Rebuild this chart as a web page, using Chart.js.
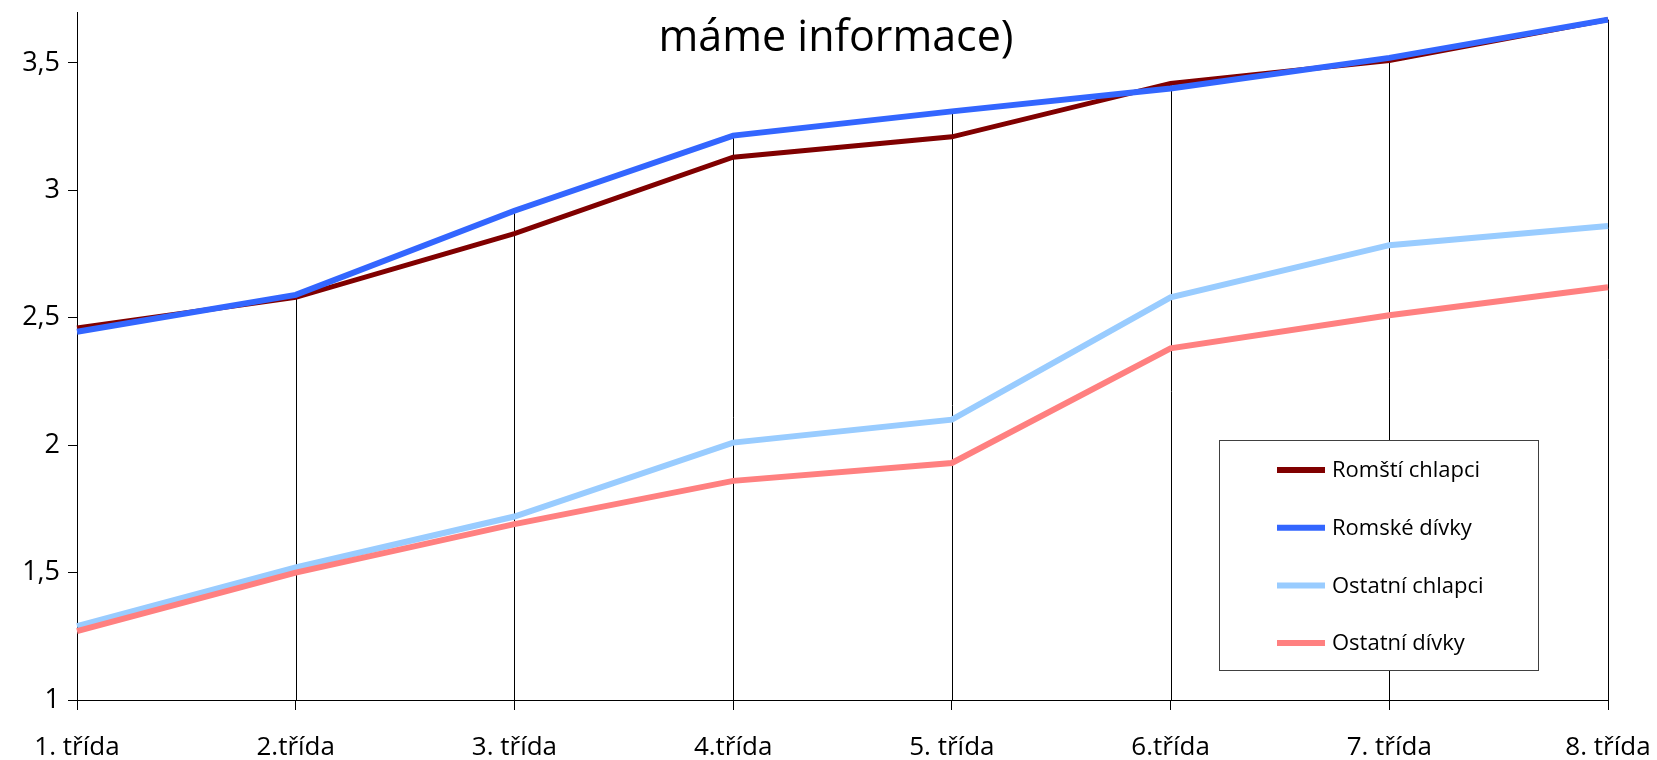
<!DOCTYPE html>
<html>
<head>
<meta charset="utf-8">
<script src="https://cdn.jsdelivr.net/npm/chart.js@4"></script>
<style>
  body { margin: 0; background: #fff; }
  #line-chart { display: block; }
</style>
</head>
<body>
<canvas id="line-chart" width="1657" height="760"></canvas>
<script>
const tridy = ['1. třída', '2.třída', '3. třída', '4.třída', '5. třída', '6.třída', '7. třída', '8. třída'];

const romstiChlapci = [2.46, 2.58, 2.83, 3.13, 3.21, 3.42, 3.51, 3.67];
const romskeDivky = [2.445, 2.59, 2.92, 3.215, 3.31, 3.40, 3.52, 3.67];
const ostatniChlapci = [1.29, 1.52, 1.72, 2.01, 2.10, 2.58, 2.785, 2.86];
const ostatniDivky = [1.27, 1.50, 1.69, 1.86, 1.93, 2.38, 2.51, 2.62];

const titleText = 'máme informace)';
const fontName = '"Open Sans", sans-serif';

// svisle spojnice od nejvyssi hodnoty dolu k ose
const dropLines = {
  id: 'dropLines',
  beforeDatasetsDraw(chart) {
    const ctx = chart.ctx;
    const x = chart.scales.x, y = chart.scales.y;
    ctx.save();
    ctx.strokeStyle = '#000';
    ctx.lineWidth = 1;
    tridy.forEach((t, i) => {
      let top = Math.max(...chart.data.datasets.map(d => d.data[i]));
      const px = Math.round(x.getPixelForValue(i)) + 0.5;
      ctx.beginPath();
      ctx.moveTo(px, y.getPixelForValue(top));
      ctx.lineTo(px, chart.chartArea.bottom);
      ctx.stroke();
    });
    ctx.restore();
  }
};

const boxLegend = {
  id: 'boxLegend',
  afterDatasetsDraw(chart) {
    const ctx = chart.ctx;
    ctx.save();
    ctx.fillStyle = '#fff';
    ctx.fillRect(1219, 440, 319, 230);
    ctx.strokeStyle = '#404040';
    ctx.lineWidth = 1;
    ctx.strokeRect(1219.5, 440.5, 319, 230);
    ctx.font = '22px ' + fontName;
    ctx.textBaseline = 'middle';
    chart.data.datasets.forEach((d, i) => {
      const yy = 470 + i * 57.7;
      ctx.strokeStyle = d.borderColor;
      ctx.lineWidth = 6;
      ctx.beginPath();
      ctx.moveTo(1277, yy);
      ctx.lineTo(1325, yy);
      ctx.stroke();
      ctx.fillStyle = '#000';
      ctx.fillText(d.label, 1332, yy + 1);
    });
    ctx.restore();
  }
};

const topTitle = {
  id: 'topTitle',
  afterDraw(chart) {
    const ctx = chart.ctx;
    ctx.save();
    ctx.font = '43px ' + fontName;
    ctx.fillStyle = '#000';
    ctx.textAlign = 'center';
    ctx.textBaseline = 'alphabetic';
    ctx.fillText(titleText, 836, 51);
    ctx.restore();
  }
};

const graf = new Chart(document.getElementById('line-chart'), {
  type: 'line',
  data: {
    labels: tridy,
    datasets: [
      { label: 'Romští chlapci', data: romstiChlapci, borderColor: '#800000', borderWidth: 5, order: 4 },
      { label: 'Romské dívky', data: romskeDivky, borderColor: '#3366FF', borderWidth: 6, order: 3 },
      { label: 'Ostatní chlapci', data: ostatniChlapci, borderColor: '#99CCFF', borderWidth: 6, order: 2 },
      { label: 'Ostatní dívky', data: ostatniDivky, borderColor: '#FF8080', borderWidth: 6, order: 1 }
    ]
  },
  options: {
    responsive: false,
    animation: false,
    elements: { point: { radius: 0 }, line: { tension: 0 } },
    layout: { padding: { top: 12, right: 49, left: 0, bottom: 0 } },
    plugins: {
      legend: { display: false },
      title: { display: false },
      tooltip: { enabled: false }
    },
    scales: {
      x: {
        grid: { drawOnChartArea: false, drawTicks: true, tickLength: 10, color: '#000' },
        border: { display: true, color: '#000' },
        ticks: { color: '#000', font: { family: fontName, size: 26 }, padding: 22, maxRotation: 0, autoSkip: false },
        afterFit(s) {
          s.height = 60;
          s.paddingLeft = 0;
          s.paddingRight = 0;
        }
      },
      y: {
        min: 1,
        max: 3.7,
        grid: { drawOnChartArea: false, drawTicks: true, tickLength: 9, color: '#000' },
        border: { display: true, color: '#000' },
        ticks: {
          stepSize: 0.5,
          color: '#000',
          font: { family: fontName, size: 27 },
          padding: 8,
          callback: v => String(v).replace('.', ',')
        },
        afterBuildTicks(s) {
          s.ticks = s.ticks.filter(t => Math.abs(t.value * 2 - Math.round(t.value * 2)) < 1e-9);
        },
        afterFit(s) {
          s.width = 77;
          s.paddingTop = 0;
          s.paddingBottom = 0;
        }
      }
    }
  },
  plugins: [dropLines, boxLegend, topTitle]
});
</script>
</body>
</html>
